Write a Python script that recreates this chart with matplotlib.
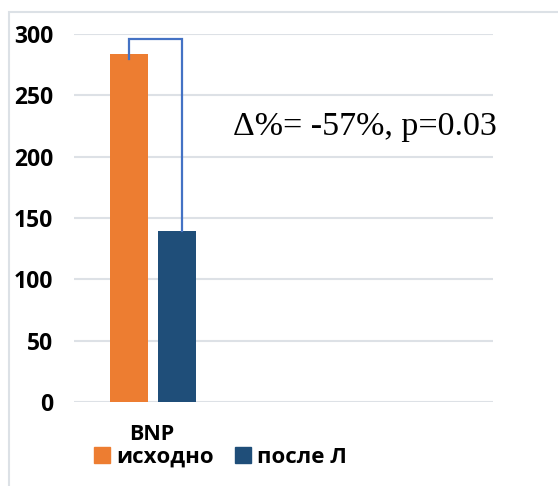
import matplotlib.pyplot as plt
from matplotlib.patches import Rectangle, Patch

category = "BNP"
series_names = ["исходно", "после Л"]
values = [284, 139]
colors = ["#ED7D31", "#1F4E79"]
yticks = [0, 50, 100, 150, 200, 250, 300]
note = "Δ%= -57%, p=0.03"

W, H = 558, 486
fig = plt.figure(figsize=(W / 100, H / 100), dpi=100)
fig.patch.set_facecolor("white")

# outer chart frame
fig.add_artist(Rectangle((8.5 / W, -0.1), 1.2, (H - 12.5) / H + 0.1, transform=fig.transFigure,
                         fill=False, ec="#DCE1E6", lw=1.5))

ax = fig.add_axes([74 / W, 84 / H, 419 / W, 368 / H])

width = 0.271
offsets = [-0.171, 0.171]
for v, off, c in zip(values, offsets, colors):
    ax.bar(off, v, width=width, color=c, zorder=2)

# bracket between the bars
bx = [offsets[0], offsets[0], offsets[1] + 0.036, offsets[1] + 0.036]
by = [values[0] - 4, 296, 296, values[1]]
ax.plot(bx, by, color="#4472C4", lw=1.6, zorder=3, solid_joinstyle="miter")

ax.text(0.569, 218, note, fontsize=24.5, family="Liberation Serif", va="baseline", ha="left")

ax.set_xlim(-0.564, 2.43)
ax.set_ylim(0, 300)
ax.set_yticks(yticks)
ax.set_yticklabels([str(t) for t in yticks], fontsize=16.5, fontweight="bold", family="Open Sans")
ax.tick_params(axis="y", length=0, pad=15)
ax.set_xticks([])
ax.grid(axis="y", color="#DDE1E6", lw=1.5, zorder=0)
for s in ax.spines.values():
    s.set_visible(False)

fig.text(152 / W, 1 - 434 / H, category, ha="center", va="center", fontsize=15.5,
         fontweight="bold", family="Open Sans")
handles = [Patch(color=c) for c in colors]
leg = fig.legend(handles, series_names, loc="center left", bbox_to_anchor=(94 / W, 1 - 457 / H),
                 ncol=2, frameon=False, handlelength=0.72, handleheight=0.72, handletextpad=0.27,
                 columnspacing=0.95, borderpad=0, borderaxespad=0,
                 prop={"family": "Open Sans", "weight": "bold", "size": 16})

fig.savefig("out.png", dpi=100)
